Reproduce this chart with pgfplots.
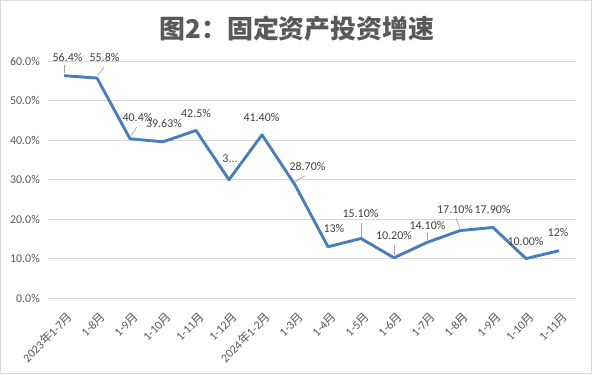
\documentclass[border=0pt]{standalone}
\usepackage{fontspec}
\setmainfont{Carlito}
\newfontfamily\cjk{Noto Sans CJK SC}
\usepackage{pgfplots}
\pgfplotsset{compat=1.18}
\definecolor{lineblue}{RGB}{74,126,187}
\definecolor{gridgray}{RGB}{217,217,217}
\definecolor{framegray}{RGB}{217,217,217}
\definecolor{ticktext}{RGB}{89,89,89}
\definecolor{lbltext}{RGB}{64,64,64}
\definecolor{leader}{RGB}{166,166,166}
\tikzset{
  lbl/.style={font=\fontsize{12}{14}\selectfont, text=lbltext, inner sep=0pt, anchor=base},
  ldr/.style={color=leader, line width=0.75bp},
}
\begin{document}
\begin{tikzpicture}[x=1bp,y=1bp]
\useasboundingbox (0,0) rectangle (592,374);
\fill[white] (0,0) rectangle (592,374);
\draw[color=framegray, line width=1bp] (0.5,0.5) rectangle (591.5,373.5);
\node[font=\cjk\bfseries\fontsize{26}{30}\selectfont, text=ticktext] at (297,345.5) {图2：固定资产投资增速};
\begin{axis}[
  at={(47.5bp,76bp)}, anchor=south west,
  scale only axis, width=528bp, height=236.5bp,
  xmin=-0.5, xmax=15.5, ymin=0, ymax=60,
  ytick={0,10,20,30,40,50,60},
  xtick={0,1,...,15},
  xticklabels={{2023{\cjk 年}1-7{\cjk 月}},{1-8{\cjk 月}},{1-9{\cjk 月}},{1-10{\cjk 月}},{1-11{\cjk 月}},{1-12{\cjk 月}},{2024{\cjk 年}1-2{\cjk 月}},{1-3{\cjk 月}},{1-4{\cjk 月}},{1-5{\cjk 月}},{1-6{\cjk 月}},{1-7{\cjk 月}},{1-8{\cjk 月}},{1-9{\cjk 月}},{1-10{\cjk 月}},{1-11{\cjk 月}}},
  yticklabel={\pgfmathprintnumber[fixed,fixed zerofill,precision=1]{\tick}\%},
  /pgf/number format/assume math mode=true,
  axis line style={draw=none},
  ymajorgrids, grid style={color=gridgray, line width=1bp},
  major tick length=0pt,
  clip=false,
  yticklabel style={font=\fontsize{12}{14}\selectfont, text=ticktext, inner sep=0pt, anchor=east, xshift=-7.5bp},
  xticklabel style={font=\fontsize{12}{14}\selectfont, text=ticktext, inner sep=0pt, xshift=6bp, yshift=-16.5bp, rotate=45, anchor=east},
]
\addplot[color=lineblue, line width=2.9bp, mark=none, line join=round] coordinates {
(0,56.4)(1,55.8)(2,40.4)(3,39.63)(4,42.5)(5,30)(6,41.4)(7,28.7)(8,13)(9,15.1)(10,10.2)(11,14.1)(12,17.1)(13,17.9)(14,10)(15,12)};
\draw[ldr] (axis cs:0,57) -- (axis cs:0,59.1);
\draw[ldr] (axis cs:1.03,56.5) -- (axis cs:1.21,58.6);
\draw[ldr] (axis cs:2.03,41.2) -- (axis cs:2.21,43.4);
\draw[ldr] (axis cs:7.0,29.5) -- (axis cs:7.3,31.0);
\draw[ldr] (axis cs:9.0,15.6) -- (axis cs:9.0,19.0);
\draw[ldr] (axis cs:10,10.8) -- (axis cs:10,13.45);
\draw[ldr] (axis cs:11.0,14.6) -- (axis cs:11.0,16.5);
\draw[ldr] (axis cs:12.0,17.6) -- (axis cs:11.88,20.3);
\node[lbl] at (axis cs:0.106,60.0) {56.4\%};
\node[lbl] at (axis cs:1.227,60.0) {55.8\%};
\node[lbl] at (axis cs:2.227,44.67) {40.4\%};
\node[lbl] at (axis cs:3.03,43.15) {39.63\%};
\node[lbl] at (axis cs:4.0,45.69) {42.5\%};
\node[lbl] at (axis cs:5.03,34.26) {3...};
\node[lbl] at (axis cs:5.985,44.67) {41.40\%};
\node[lbl] at (axis cs:7.379,32.23) {28.70\%};
\node[lbl] at (axis cs:8.18,16.5) {13\%};
\node[lbl] at (axis cs:8.985,20.3) {15.10\%};
\node[lbl] at (axis cs:10.0,14.72) {10.20\%};
\node[lbl] at (axis cs:11.015,17.26) {14.10\%};
\node[lbl] at (axis cs:11.85,21.32) {17.10\%};
\node[lbl] at (axis cs:12.985,21.32) {17.90\%};
\node[lbl] at (axis cs:13.985,13.2) {10.00\%};
\node[lbl] at (axis cs:14.97,15.48) {12\%};
\end{axis}
\end{tikzpicture}
\end{document}
